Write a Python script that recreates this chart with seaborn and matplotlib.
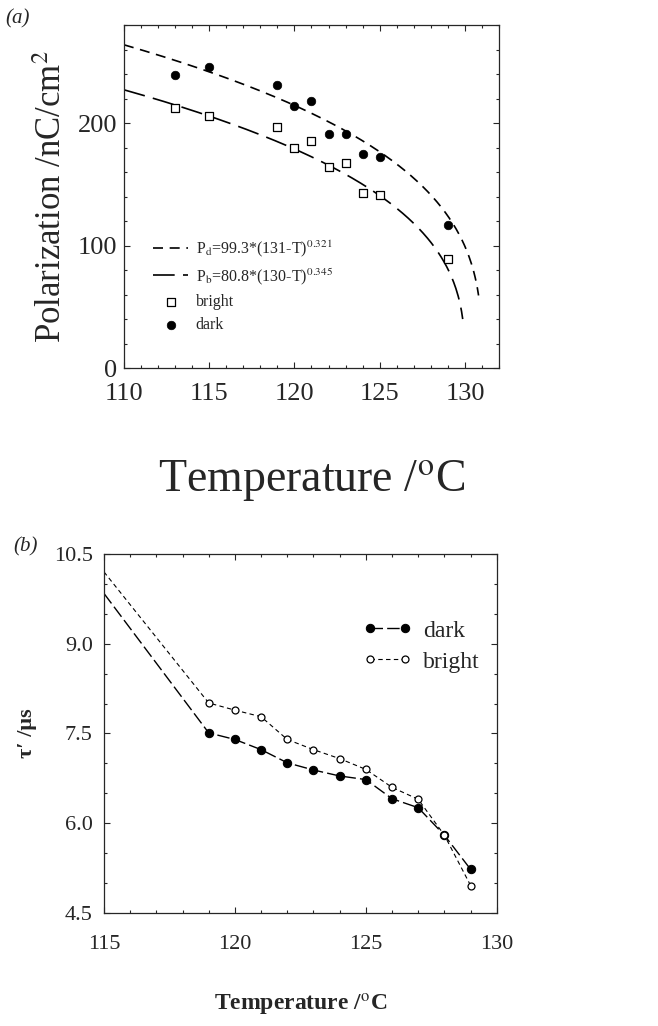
import numpy as np
import matplotlib
matplotlib.use("Agg")
import matplotlib.pyplot as plt
from matplotlib.ticker import MultipleLocator
import seaborn as sns

# Panel (a): polarizacion
T_a = [113, 115, 119, 120, 121, 122, 123, 124, 125, 129]
P_dark = [239, 246, 231, 214, 218, 191, 191, 175, 172, 117]
P_bright = [212, 206, 197, 180, 185, 164, 167, 143, 141, 89]

FIT_D = (99.3, 131, 0.321, 130.8)
FIT_B = (80.8, 130, 0.345, 129.87)

# Panel (b): tiempo de respuesta
T_b = [115, 119, 120, 121, 122, 123, 124, 125, 126, 127, 128, 129]
tau_dark = [9.84, 7.51, 7.40, 7.23, 7.01, 6.89, 6.79, 6.73, 6.41, 6.26, 5.80, 5.23]
tau_bright = [10.20, 8.01, 7.89, 7.78, 7.40, 7.23, 7.08, 6.90, 6.60, 6.40, 5.80, 4.96]

sns.set_style("ticks")
plt.rcParams['font.family'] = ['Liberation Serif', 'DejaVu Serif']
plt.rcParams['mathtext.fontset'] = 'stix'
plt.rcParams['xtick.direction'] = 'in'
plt.rcParams['ytick.direction'] = 'in'

fig = plt.figure(figsize=(6.58, 10.26), dpi=100)
ax1 = fig.add_axes([0.1884, 0.6413, 0.570, 0.3343])
ax2 = fig.add_axes([0.158, 0.1101, 0.597, 0.350])


def curva(par, t0):
	a, tc, ex, tf = par
	t = np.linspace(t0, tf, 300)
	return t, a * (tc - t) ** ex


# ---- (a)
td, pd_ = curva(FIT_D, 110)
tb, pb_ = curva(FIT_B, 110)
sns.lineplot(x=td, y=pd_, ax=ax1, color='k', lw=1.2, linestyle=(0, (6, 4)),
             label=r'P$_{\rm d}$=99.3*(131-T)$^{0.321}$', sort=False)
sns.lineplot(x=tb, y=pb_, ax=ax1, color='k', lw=1.2, linestyle=(0, (13, 5)),
             label=r'P$_{\rm b}$=80.8*(130-T)$^{0.345}$', sort=False)
sns.scatterplot(x=T_a, y=P_bright, ax=ax1, marker='s', color='white', edgecolor='k',
                linewidth=0.9, s=38, label='bright', zorder=3)
sns.scatterplot(x=T_a, y=P_dark, ax=ax1, marker='o', color='k', edgecolor='k',
                s=38, label='dark', zorder=3)

ax1.set_xlim(110, 132)
ax1.set_ylim(0, 280)
ax1.set_xticks([110, 115, 120, 125, 130])
ax1.set_yticks([0, 100, 200])
ax1.xaxis.set_minor_locator(MultipleLocator(1))
ax1.yaxis.set_minor_locator(MultipleLocator(20))
ax1.tick_params(which='both', top=True, right=True, labelsize=19, width=0.8)
ax1.tick_params(which='major', length=4)
ax1.tick_params(which='minor', length=2.5)
ax1.tick_params(axis='x', pad=11)
ax1.tick_params(axis='y', pad=5)
ax1.set_xlabel(r'Temperature /$^{\rm o}$C', fontsize=33, labelpad=38)
ax1.set_ylabel(r'Polarization /nC/cm$^2$', fontsize=25, labelpad=6)
leg = ax1.legend(loc='upper left', bbox_to_anchor=(0.04, 0.42), frameon=False,
                 fontsize=11.5, handlelength=2.2, handletextpad=0.45, labelspacing=0.45,
                 scatterpoints=1)
for sp in ax1.spines.values():
	sp.set_linewidth(0.9)

# ---- (b)
sns.lineplot(x=T_b, y=tau_dark, ax=ax2, color='k', lw=1.0, linestyle=(0, (9, 3)),
             marker='o', markersize=6, markerfacecolor='k', markeredgecolor='k',
             markevery=slice(1, None), label='dark')
sns.lineplot(x=T_b, y=tau_bright, ax=ax2, color='k', lw=0.8, linestyle=(0, (4, 3)),
             marker='o', markersize=5, markerfacecolor='white', markeredgecolor='k',
             markeredgewidth=0.9, markevery=slice(1, None), label='bright')

ax2.set_xlim(115, 130)
ax2.set_ylim(4.5, 10.5)
ax2.set_xticks([115, 120, 125, 130])
ax2.set_yticks([4.5, 6.0, 7.5, 9.0, 10.5])
ax2.set_yticklabels(['4.5', '6.0', '7.5', '9.0', '10.5'])
ax2.xaxis.set_minor_locator(MultipleLocator(1))
ax2.yaxis.set_minor_locator(MultipleLocator(0.5))
ax2.tick_params(which='both', top=True, right=True, labelsize=16, width=0.8)
ax2.tick_params(which='major', length=4)
ax2.tick_params(which='minor', length=2.5)
ax2.tick_params(axis='x', pad=16)
ax2.tick_params(axis='y', pad=8)
ax2.set_xlabel(r'Temperature /$^{\rm o}$C', fontsize=17, fontweight='bold', labelpad=27)
ax2.set_ylabel('τ′ /μs', fontsize=16, fontweight='bold', labelpad=12)
leg2 = ax2.legend(loc='upper right', bbox_to_anchor=(1.01, 0.875), frameon=False,
                  fontsize=17, numpoints=2, handlelength=2.1, handletextpad=0.45,
                  labelspacing=0.4)
for h in leg2.legend_handles:
	h.set_markevery(None)
for sp in ax2.spines.values():
	sp.set_linewidth(0.9)

fig.text(0.008, 0.982, '(a)', fontsize=15, style='italic', va='center')
fig.text(0.02, 0.467, '(b)', fontsize=15, style='italic', va='center')

fig.savefig('out.png', dpi=100)
